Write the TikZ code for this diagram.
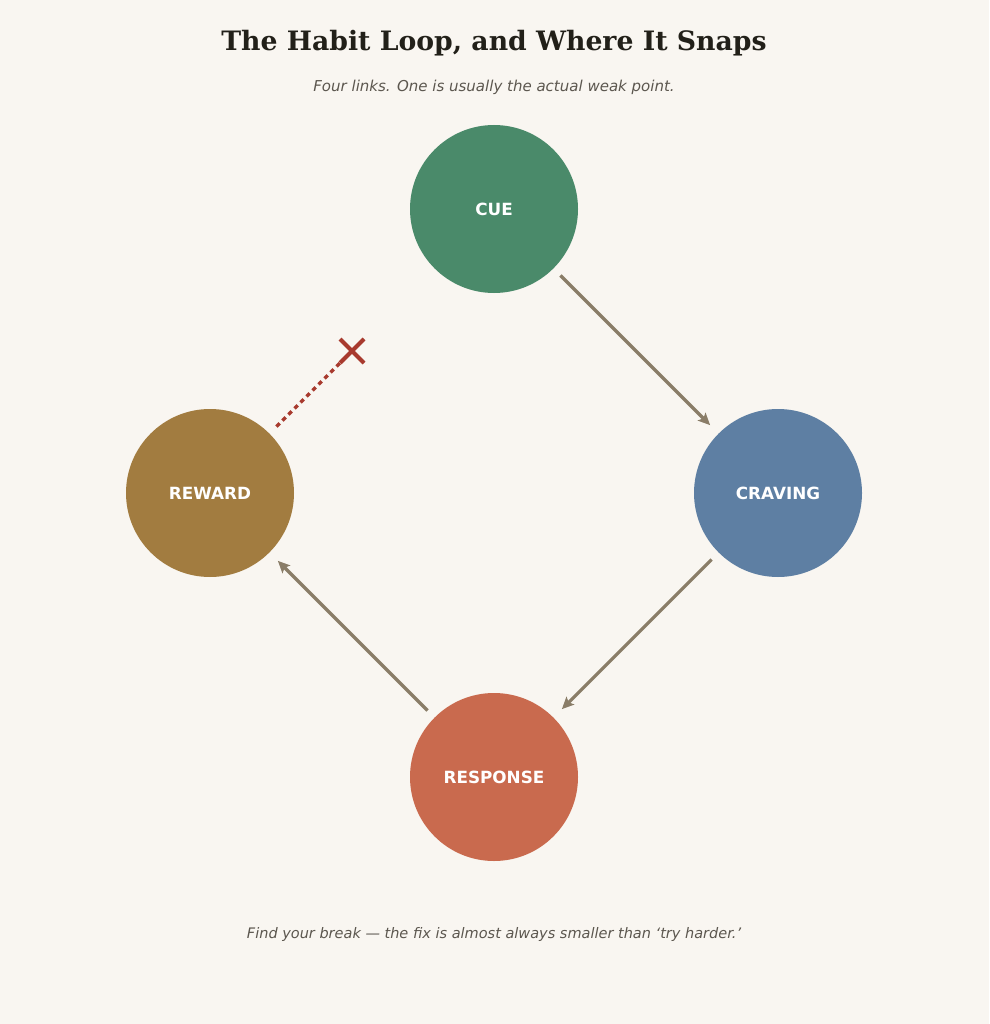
\documentclass[tikz,border=0pt]{standalone}
\usepackage{fontspec}
\setmainfont{DejaVu Sans}
\newfontfamily\titlefont{DejaVu Serif}
\usetikzlibrary{arrows.meta,calc}
\definecolor{bg}{HTML}{F9F6F1}
\definecolor{cuecol}{HTML}{4A8A6A}
\definecolor{cravcol}{HTML}{5E7FA3}
\definecolor{respcol}{HTML}{C96A4E}
\definecolor{rewcol}{HTML}{A27C40}
\definecolor{linkcol}{HTML}{8A7D68}
\definecolor{breakcol}{HTML}{A83A2E}
\definecolor{titlecol}{HTML}{222019}
\definecolor{subcol}{HTML}{5C574F}
\tikzset{
  stage/.style={circle, minimum size=168pt, inner sep=0pt, outer sep=0pt, text=white,
    font=\fontsize{16.8}{20}\selectfont\bfseries},
  link/.style={draw=linkcol, line width=3.2pt, shorten <=10pt, shorten >=12pt,
    -{Stealth[length=12pt,width=11pt,inset=2.5pt]}},
  broken/.style={draw=breakcol, line width=3.5pt, dash pattern=on 4.5pt off 4pt, shorten <=10pt, shorten >=12pt},
  xmark/.style={draw=breakcol, line width=4pt},
}
\begin{document}
\begin{tikzpicture}[x=1pt,y=-1pt]
\useasboundingbox[fill=bg] (0,0) rectangle (989,1024);
\node[font=\titlefont\fontsize{26.7}{31}\selectfont\bfseries, text=titlecol] (title) at (494,43) {The Habit Loop, and Where It Snaps};
\node[font=\fontsize{15}{18}\selectfont\itshape, text=subcol] (subtitle) at (494,87) {Four links. One is usually the actual weak point.};
\node[stage, fill=cuecol] (cue) at (494,209) {CUE};
\node[stage, fill=cravcol] (craving) at (778,493) {CRAVING};
\node[stage, fill=respcol] (response) at (494,777) {RESPONSE};
\node[stage, fill=rewcol] (reward) at (210,493) {REWARD};
\coordinate (break) at (352,351);
\draw[link] (cue) -- (craving);
\draw[link] (craving) -- (response);
\draw[link] (response) -- (reward);
\draw[broken] (reward) -- (break);
\draw[xmark] ($(break)+(-12,-12)$) -- ($(break)+(12,12)$);
\draw[xmark] ($(break)+(-12,12)$) -- ($(break)+(12,-12)$);
\node[font=\fontsize{14.5}{17}\selectfont\itshape, text=subcol] (caption) at (494,934) {Find your break — the fix is almost always smaller than ‘try harder.’};
\end{tikzpicture}
\end{document}
